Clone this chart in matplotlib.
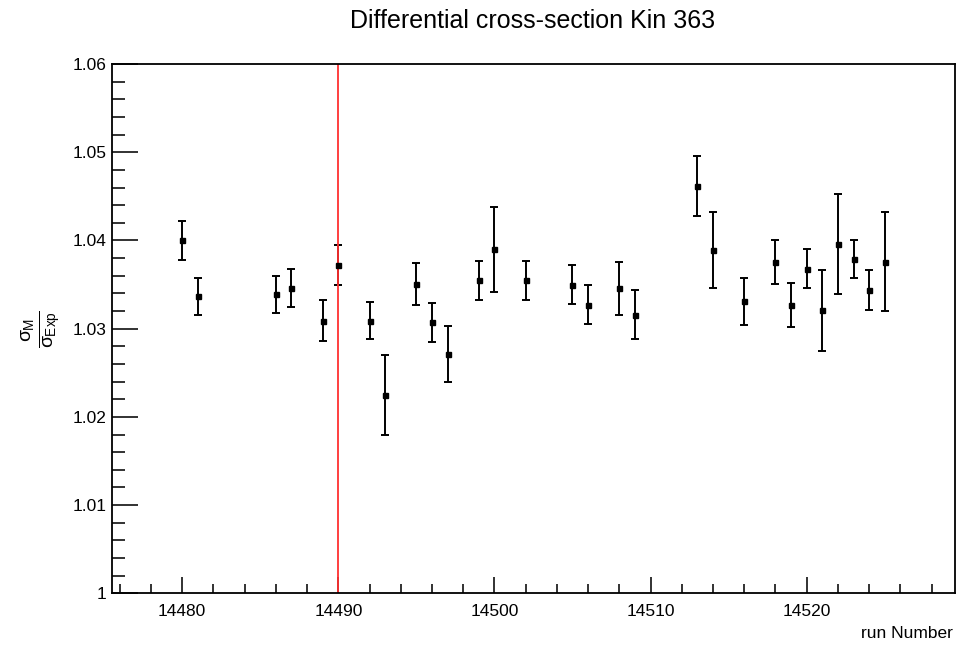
import matplotlib.pyplot as plt
from matplotlib.ticker import MultipleLocator

plt.rcParams['font.family'] = ['Liberation Sans', 'DejaVu Sans']
plt.rcParams['mathtext.fontset'] = 'custom'
plt.rcParams['mathtext.rm'] = 'Liberation Sans'
plt.rcParams['mathtext.it'] = 'Liberation Sans'

runs = [14480, 14481, 14486, 14487, 14489, 14490, 14492, 14493, 14495, 14496,
        14497, 14499, 14500, 14502, 14505, 14506, 14508, 14509, 14513, 14514,
        14516, 14518, 14519, 14520, 14521, 14522, 14523, 14524, 14525]
ratio = [1.0400, 1.0337, 1.0339, 1.0346, 1.0309, 1.0372, 1.0309, 1.0225, 1.0351, 1.0307,
         1.0271, 1.0355, 1.0390, 1.0355, 1.0350, 1.0327, 1.0346, 1.0316, 1.0462, 1.0389,
         1.0331, 1.0376, 1.0327, 1.0368, 1.0321, 1.0396, 1.0379, 1.0344, 1.0376]
err = [0.0022, 0.0021, 0.0021, 0.0022, 0.0023, 0.0023, 0.0021, 0.0045, 0.0024, 0.0022,
       0.0032, 0.0022, 0.0048, 0.0022, 0.0022, 0.0022, 0.0030, 0.0028, 0.0034, 0.0043,
       0.0027, 0.0025, 0.0025, 0.0022, 0.0046, 0.0057, 0.0022, 0.0023, 0.0056]
ref_run = 14490

fig = plt.figure(figsize=(9.71, 6.48), dpi=100)
ax = fig.add_axes([0.1153, 0.0844, 0.8682, 0.8168])

ax.errorbar(runs, ratio, yerr=err, fmt='s', color='black', ms=3.6,
            elinewidth=1.4, capsize=3, capthick=1.4)
ax.axvline(ref_run, color='#ff3030', lw=1.3)

ax.set_xlim(14475.5, 14529.5)
ax.set_ylim(1.0, 1.06)
ax.xaxis.set_major_locator(MultipleLocator(10))
ax.xaxis.set_minor_locator(MultipleLocator(2))
ax.yaxis.set_major_locator(MultipleLocator(0.01))
ax.yaxis.set_minor_locator(MultipleLocator(0.002))
ax.yaxis.set_major_formatter(plt.FuncFormatter(lambda v, p: f"{v:g}"))
ax.tick_params(which='both', direction='in', top=False, right=False,
               labelsize=12.5, width=1.3, color='#222222')
ax.tick_params(axis='y', which='major', length=19, pad=4)
ax.tick_params(axis='y', which='minor', length=9.5)
ax.tick_params(axis='x', which='major', length=11.5, pad=8)
ax.tick_params(axis='x', which='minor', length=6.5)
for s in ax.spines.values():
    s.set_linewidth(1.3)

fig.text(0.548, 0.967, 'Differential cross-section Kin 363', ha='center',
         va='center', fontsize=18)
fig.text(0.981, 0.022, 'run Number', ha='right', va='center', fontsize=12.5)
fig.text(0.043, 0.492, r'$\frac{\sigma_{M}}{\sigma_{Exp}}$', rotation=90,
         ha='center', va='center', fontsize=20)

fig.savefig('out.png', dpi=100)
